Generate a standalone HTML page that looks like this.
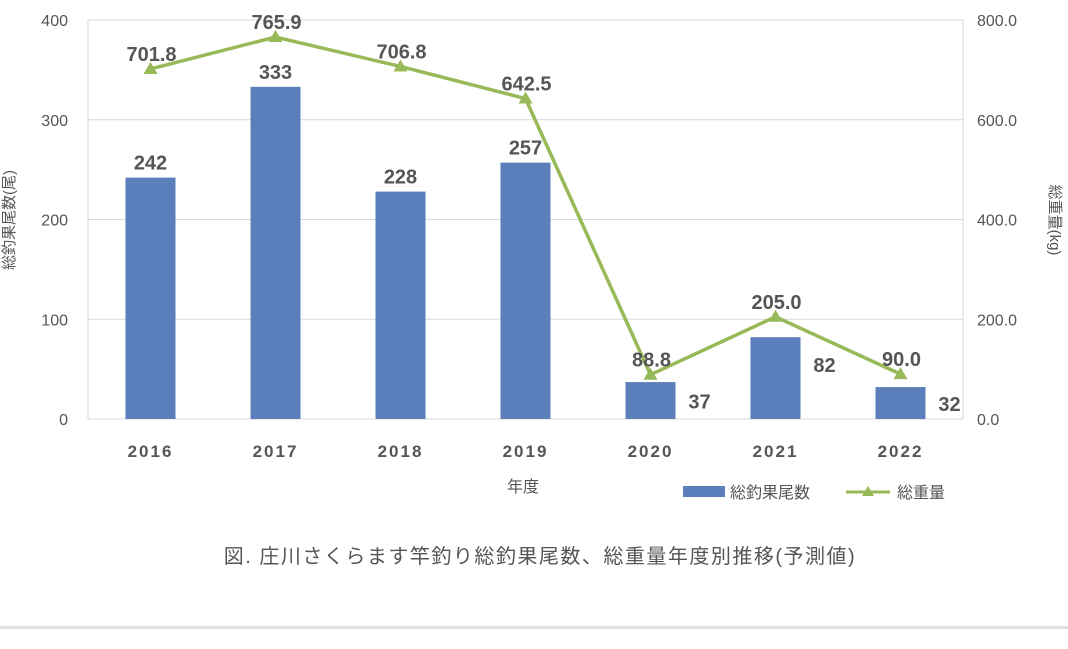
<!DOCTYPE html>
<html><head><meta charset="utf-8"><style>
body{margin:0;background:#fff;}
svg text{font-family:"Liberation Sans","Noto Sans CJK JP",sans-serif;}
</style></head><body>
<svg width="1068" height="644" viewBox="0 0 1068 644">
<g id="grid"></g><g id="bars"></g><g id="line"></g><g id="labels"></g>
<text x="523" y="492" font-size="16" fill="#555" text-anchor="middle">年度</text>
<text transform="translate(14,220) rotate(-90)" font-size="15" fill="#555" text-anchor="middle">総釣果尾数(尾)</text>
<text transform="translate(1050,220) rotate(90)" font-size="15" fill="#555" text-anchor="middle">総重量(kg)</text>
<g>
<rect x="683" y="486" width="42" height="11" fill="#5a7fba"/>
<text x="730" y="498" font-size="16" fill="#555">総釣果尾数</text>
<line x1="846" y1="492" x2="890" y2="492" stroke="#98b957" stroke-width="3"/>
<polygon points="868,486 874,496 862,496" fill="#98b957"/>
<text x="897" y="498" font-size="16" fill="#555">総重量</text>
</g>
<text x="540" y="563" font-size="20" fill="#555" text-anchor="middle" letter-spacing="1.5">図. 庄川さくらます竿釣り総釣果尾数、総重量年度別推移(予測値)</text>
<rect x="0" y="626" width="1068" height="3" fill="#e0e0e0"/>
</svg>
<script>
const categories=["2016","2017","2018","2019","2020","2021","2022"];
const counts=[242,333,228,257,37,82,32];
const weights=[701.8,765.9,706.8,642.5,88.8,205.0,90.0];
const leftTicks=[0,100,200,300,400];
const rightTicks=[0,200,400,600,800];
const NS="http://www.w3.org/2000/svg";
const L=88,R=963,T=20,B=419;
const step=(R-L)/categories.length;
const xc=i=>L+step*(i+0.5);
const yl=v=>B-(v/400)*(B-T);
const yr=v=>B-(v/800)*(B-T);
function mk(tag,attrs,parent,txt){const e=document.createElementNS(NS,tag);for(const k in attrs)e.setAttribute(k,attrs[k]);if(txt!==undefined)e.textContent=txt;parent.appendChild(e);return e;}
const grid=document.getElementById('grid'),bars=document.getElementById('bars'),line=document.getElementById('line'),labels=document.getElementById('labels');
leftTicks.forEach((v,i)=>{
 const g=mk('line',{x1:L,x2:R,y1:yl(v),y2:yl(v),stroke:'#d9d9d9','stroke-width':1},grid);
 
 
 const t=mk('text',{x:L-20,y:yl(v)+6,'font-size':16,fill:'#555','text-anchor':'end'},grid,String(v));
 
 
});
rightTicks.forEach(v=>{
 const t=mk('text',{x:R+14,y:yr(v)+6,'font-size':16,fill:'#555'},grid,v.toFixed(1));
 
 
});
mk('line',{x1:L,x2:L,y1:T,y2:B,stroke:'#d9d9d9'},grid);
mk('line',{x1:R,x2:R,y1:T,y2:B,stroke:'#d9d9d9'},grid);
categories.forEach((c,i)=>{
 const t=mk('text',{x:xc(i),y:457,'font-size':17,'font-weight':'bold',fill:'#555','text-anchor':'middle','letter-spacing':'2'},labels,c);
 
 
 const r=mk('rect',{x:xc(i)-25,y:yl(counts[i]),width:50,height:B-yl(counts[i]),fill:'#5a7fba'},bars);
 
 
 const inside=counts[i]>150;
 const bl=mk('text',{x:inside?xc(i):xc(i)+49,y:inside?yl(counts[i])-8:yl(counts[i])+Math.min(35,(B-yl(counts[i]))/2+8),'font-size':20,'font-weight':'bold',fill:'#555','text-anchor':'middle'},labels,String(counts[i]));
 
 
});
const pts=weights.map((w,i)=>xc(i)+','+yr(w)).join(' ');
const pl=mk('polyline',{points:pts,fill:'none',stroke:'#98b957','stroke-width':3.5},line);


weights.forEach((w,i)=>{
 const x=xc(i),y=yr(w);
 const p=mk('polygon',{points:`${x},${y-7} ${x+7},${y+5} ${x-7},${y+5}`,fill:'#98b957'},line);
 
 
 const t=mk('text',{x:x+1,y:y-8,'font-size':20,'font-weight':'bold',fill:'#555','text-anchor':'middle'},labels,w.toFixed(1));
 
 
});
</script>
</body></html>
